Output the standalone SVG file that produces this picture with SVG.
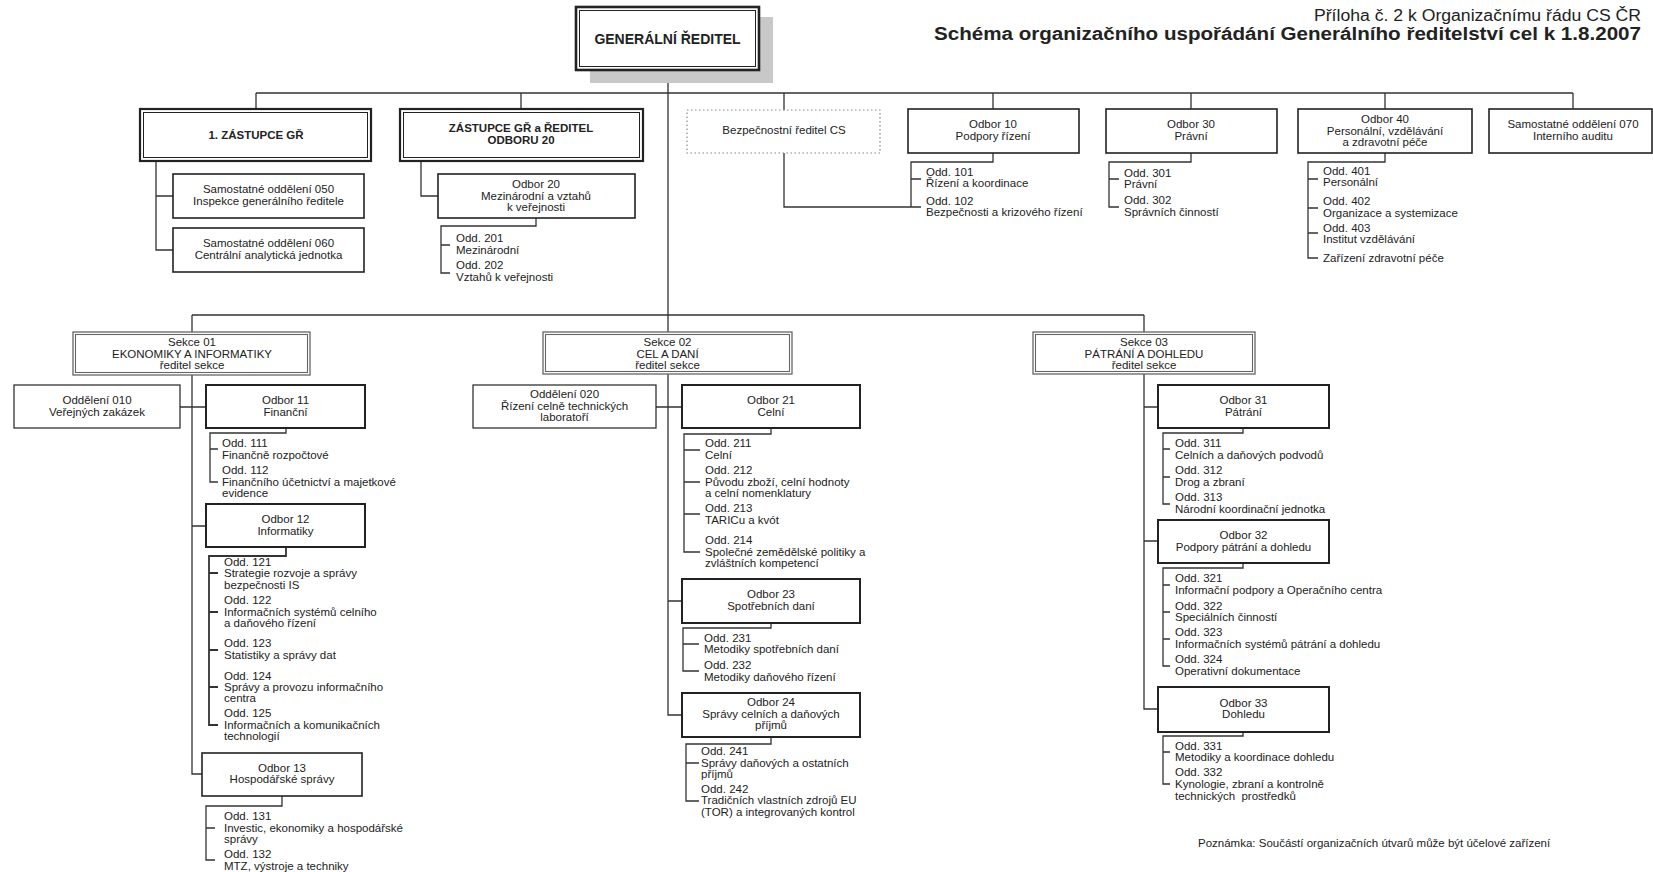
<svg xmlns="http://www.w3.org/2000/svg" width="1653" height="872" viewBox="0 0 1653 872">
<style>
text{font-family:"Liberation Sans",Arial,sans-serif;font-size:11.5px;fill:#222}
.c{text-anchor:middle}
.b{font-weight:bold}
.box{fill:#fff;stroke:#222;stroke-width:1.6}
.thin{fill:#fff;stroke:#222;stroke-width:1.2}
.dbo{fill:#fff;stroke:#222;stroke-width:2.2}
.dbi{fill:none;stroke:#222;stroke-width:1}
.so{fill:#fff;stroke:#666;stroke-width:1.3}
.si{fill:none;stroke:#666;stroke-width:1.1}
.dot{fill:#fff;stroke:#888;stroke-width:1.2;stroke-dasharray:1.5 2.5}
.ln{fill:none;stroke:#333;stroke-width:1.3}
</style>
<rect width="1653" height="872" fill="#fff"/>
<g id="title">
<text x="1641" y="21" text-anchor="end" style="font-size:16px" textLength="327" lengthAdjust="spacingAndGlyphs">Příloha č. 2 k Organizačnímu řádu CS ČR</text>
<text x="1641" y="40" text-anchor="end" class="b" style="font-size:18px" textLength="707" lengthAdjust="spacingAndGlyphs">Schéma organizačního uspořádání Generálního ředitelství cel k 1.8.2007</text>
</g>
<g id="connectors" class="ln">
<path d="M668 70V332M256 93H1573M256 93V109M521 93V109M784 93V110M993 93V109M1191 93V109M1385 93V109M1573 93V109"/>
<path d="M156 161V250H173M156 196H173"/>
<path d="M421 161V196H438"/>
<path d="M536 218V226H441V273H450M441 245H450"/>
<path d="M784 153V207H921"/>
<path d="M993 153V162H911V207M911 179H921"/>
<path d="M1191 153V162H1109V207H1119M1109 179H1119"/>
<path d="M1385 153V162H1308V258H1318M1308 179H1318M1308 208H1318M1308 233H1318"/>
<path d="M192 315H1144M192 315V332M1144 315V332"/>
<path d="M192 375V774H202M180 407H206M192 526H206"/>
<path d="M286 428V433H210V482H218M210 449H218"/>
<path d="M286 547V556H209V725H218M209 573H218M209 612H218M209 650H218M209 687H218" style="stroke-width:1.8"/>
<path d="M282 796V806H206V860H215M206 828H215"/>
<path d="M668 374V715H682M656 407H682M668 601H682"/>
<path d="M771 428V434H684V552H700M684 450H700M684 482H700M684 514H700"/>
<path d="M771 623V628H683V671H699M683 644H699"/>
<path d="M771 737V744H686V801H699M686 763H699"/>
<path d="M1144 374V709H1158M1144 407H1158M1144 541H1158"/>
<path d="M1243 428V433H1163V504H1170M1163 449H1170M1163 477H1170"/>
<path d="M1243 563V568H1163V666H1170M1163 585H1170M1163 612H1170M1163 639H1170"/>
<path d="M1243 732V736H1163V784H1170M1163 752H1170"/>
</g>
<g id="gr">
<rect x="590" y="17" width="183" height="66" fill="#c8c8c8"/>
<rect x="576" y="7" width="183" height="63" fill="#fff" stroke="#222" stroke-width="2.6"/>
<rect x="579.5" y="10.5" width="176" height="56" class="dbi"/>
<text x="667.5" y="44" class="c b" style="font-size:14px">GENERÁLNÍ ŘEDITEL</text>
</g>
<g id="zastupce1">
<rect x="140" y="109" width="231" height="52" class="dbo"/>
<rect x="143.5" y="112.5" width="224" height="45" class="dbi"/>
<text x="256" y="139" class="c b">1. ZÁSTUPCE GŘ</text>
</g>
<g id="zastupce2">
<rect x="400" y="109" width="243" height="52" class="dbo"/>
<rect x="403.5" y="112.5" width="236" height="45" class="dbi"/>
<text x="521" y="132" class="c b">ZÁSTUPCE GŘ a ŘEDITEL</text>
<text x="521" y="143.5" class="c b">ODBORU 20</text>
</g>
<g id="bezpecnostni">
<rect x="687" y="110" width="193" height="43" class="dot"/>
<text x="784" y="134" class="c">Bezpečnostní ředitel CS</text>
</g>
<g id="odbor10">
<rect x="908" y="109" width="171" height="44" class="box"/>
<text x="993" y="128" class="c">Odbor 10</text>
<text x="993" y="140" class="c">Podpory řízení</text>
</g>
<g id="odbor30">
<rect x="1106" y="109" width="171" height="44" class="box"/>
<text x="1191" y="128" class="c">Odbor 30</text>
<text x="1191" y="140" class="c">Právní</text>
</g>
<g id="odbor40">
<rect x="1298" y="109" width="174" height="44" class="box"/>
<text x="1385" y="123" class="c">Odbor 40</text>
<text x="1385" y="134.5" class="c">Personální, vzdělávání</text>
<text x="1385" y="146" class="c">a zdravotní péče</text>
</g>
<g id="odd070">
<rect x="1489" y="109" width="163" height="44" class="box"/>
<text x="1573" y="128" class="c">Samostatné oddělení 070</text>
<text x="1573" y="140" class="c">Interního auditu</text>
</g>
<g id="odd050">
<rect x="173" y="174" width="191" height="44" class="box"/>
<text x="268.5" y="193" class="c">Samostatné oddělení 050</text>
<text x="268.5" y="205" class="c">Inspekce generálního ředitele</text>
</g>
<g id="odd060">
<rect x="173" y="228" width="191" height="44" class="box"/>
<text x="268.5" y="247" class="c">Samostatné oddělení 060</text>
<text x="268.5" y="259" class="c">Centrální analytická jednotka</text>
</g>
<g id="odbor20">
<rect x="438" y="174" width="197" height="44" class="box"/>
<text x="536" y="188" class="c">Odbor 20</text>
<text x="536" y="199.5" class="c">Mezinárodní a vztahů</text>
<text x="536" y="211" class="c">k veřejnosti</text>
</g>
<g id="odd20x">
<text x="456" y="242">Odd. 201</text>
<text x="456" y="254">Mezinárodní</text>
<text x="456" y="269">Odd. 202</text>
<text x="456" y="281">Vztahů k veřejnosti</text>
</g>
<g id="odd10x">
<text x="926" y="176">Odd. 101</text>
<text x="926" y="187">Řízení a koordinace</text>
<text x="926" y="205">Odd. 102</text>
<text x="926" y="216">Bezpečnosti a krizového řízení</text>
</g>
<g id="odd30x">
<text x="1124" y="177">Odd. 301</text>
<text x="1124" y="188">Právní</text>
<text x="1124" y="204">Odd. 302</text>
<text x="1124" y="216">Správních činností</text>
</g>
<g id="odd40x">
<text x="1323" y="175">Odd. 401</text>
<text x="1323" y="186">Personální</text>
<text x="1323" y="205">Odd. 402</text>
<text x="1323" y="217">Organizace a systemizace</text>
<text x="1323" y="232">Odd. 403</text>
<text x="1323" y="243">Institut vzdělávání</text>
<text x="1323" y="262">Zařízení zdravotní péče</text>
</g>
<g id="sekce01">
<rect x="73" y="332" width="237" height="43" class="so"/>
<rect x="75.5" y="334.5" width="232" height="38" class="si"/>
<text x="192" y="346" class="c">Sekce 01</text>
<text x="192" y="357.5" class="c">EKONOMIKY A INFORMATIKY</text>
<text x="192" y="368.5" class="c">ředitel sekce</text>
</g>
<g id="sekce02">
<rect x="543" y="332" width="249" height="42" class="so"/>
<rect x="545.5" y="334.5" width="244" height="37" class="si"/>
<text x="667.5" y="346" class="c">Sekce 02</text>
<text x="667.5" y="357.5" class="c">CEL A DANÍ</text>
<text x="667.5" y="368.5" class="c">ředitel sekce</text>
</g>
<g id="sekce03">
<rect x="1033" y="332" width="222" height="42" class="so"/>
<rect x="1035.5" y="334.5" width="217" height="37" class="si"/>
<text x="1144" y="346" class="c">Sekce 03</text>
<text x="1144" y="357.5" class="c">PÁTRÁNÍ A DOHLEDU</text>
<text x="1144" y="368.5" class="c">ředitel sekce</text>
</g>
<g id="odd010">
<rect x="14" y="385" width="166" height="43" class="thin"/>
<text x="97" y="404" class="c">Oddělení 010</text>
<text x="97" y="416" class="c">Veřejných zakázek</text>
</g>
<g id="odbor11">
<rect x="206" y="385" width="159" height="43" class="box" style="stroke-width:2"/>
<text x="285.5" y="404" class="c">Odbor 11</text>
<text x="285.5" y="416" class="c">Finanční</text>
</g>
<g id="odd11x">
<text x="222" y="447">Odd. 111</text>
<text x="222" y="459">Finančně rozpočtové</text>
<text x="222" y="474">Odd. 112</text>
<text x="222" y="486">Finančního účetnictví a majetkové</text>
<text x="222" y="497">evidence</text>
</g>
<g id="odbor12">
<rect x="206" y="504" width="159" height="43" class="box" style="stroke-width:2"/>
<text x="285.5" y="523" class="c">Odbor 12</text>
<text x="285.5" y="535" class="c">Informatiky</text>
</g>
<g id="odd12x">
<text x="224" y="566">Odd. 121</text>
<text x="224" y="577">Strategie rozvoje a správy</text>
<text x="224" y="589">bezpečnosti IS</text>
<text x="224" y="604">Odd. 122</text>
<text x="224" y="616">Informačních systémů celního</text>
<text x="224" y="627">a daňového řízení</text>
<text x="224" y="647">Odd. 123</text>
<text x="224" y="659">Statistiky a správy dat</text>
<text x="224" y="680">Odd. 124</text>
<text x="224" y="691">Správy a provozu informačního</text>
<text x="224" y="702">centra</text>
<text x="224" y="717">Odd. 125</text>
<text x="224" y="729">Informačních a komunikačních</text>
<text x="224" y="740">technologií</text>
</g>
<g id="odbor13">
<rect x="202" y="753" width="160" height="43" class="box"/>
<text x="282" y="772" class="c">Odbor 13</text>
<text x="282" y="783" class="c">Hospodářské správy</text>
</g>
<g id="odd13x">
<text x="224" y="820">Odd. 131</text>
<text x="224" y="832">Investic, ekonomiky a hospodářské</text>
<text x="224" y="843">správy</text>
<text x="224" y="858">Odd. 132</text>
<text x="224" y="870">MTZ, výstroje a techniky</text>
</g>
<g id="odd020">
<rect x="473" y="385" width="183" height="43" class="thin"/>
<text x="564.5" y="398" class="c">Oddělení 020</text>
<text x="564.5" y="410" class="c">Řízení celně technických</text>
<text x="564.5" y="421" class="c">laboratoří</text>
</g>
<g id="odbor21">
<rect x="682" y="385" width="178" height="43" class="box" style="stroke-width:2"/>
<text x="771" y="404" class="c">Odbor 21</text>
<text x="771" y="416" class="c">Celní</text>
</g>
<g id="odd21x">
<text x="705" y="447">Odd. 211</text>
<text x="705" y="459">Celní</text>
<text x="705" y="474">Odd. 212</text>
<text x="705" y="486">Původu zboží, celní hodnoty</text>
<text x="705" y="497">a celní nomenklatury</text>
<text x="705" y="512">Odd. 213</text>
<text x="705" y="524">TARICu a kvót</text>
<text x="705" y="544">Odd. 214</text>
<text x="705" y="556">Společné zemědělské politiky a</text>
<text x="705" y="567">zvláštních kompetencí</text>
</g>
<g id="odbor23">
<rect x="682" y="579" width="178" height="44" class="box" style="stroke-width:2"/>
<text x="771" y="598" class="c">Odbor 23</text>
<text x="771" y="610" class="c">Spotřebních daní</text>
</g>
<g id="odd23x">
<text x="704" y="642">Odd. 231</text>
<text x="704" y="653">Metodiky spotřebních daní</text>
<text x="704" y="669">Odd. 232</text>
<text x="704" y="681">Metodiky daňového řízení</text>
</g>
<g id="odbor24">
<rect x="682" y="693" width="178" height="44" class="box" style="stroke-width:2"/>
<text x="771" y="706" class="c">Odbor 24</text>
<text x="771" y="718" class="c">Správy celních a daňových</text>
<text x="771" y="729" class="c">příjmů</text>
</g>
<g id="odd24x">
<text x="701" y="755">Odd. 241</text>
<text x="701" y="767">Správy daňových a ostatních</text>
<text x="701" y="778">příjmů</text>
<text x="701" y="793">Odd. 242</text>
<text x="701" y="804">Tradičních vlastních zdrojů EU</text>
<text x="701" y="816">(TOR) a integrovaných kontrol</text>
</g>
<g id="odbor31">
<rect x="1158" y="385" width="171" height="43" class="box" style="stroke-width:2"/>
<text x="1243.5" y="404" class="c">Odbor 31</text>
<text x="1243.5" y="416" class="c">Pátrání</text>
</g>
<g id="odd31x">
<text x="1175" y="447">Odd. 311</text>
<text x="1175" y="459">Celních a daňových podvodů</text>
<text x="1175" y="474">Odd. 312</text>
<text x="1175" y="486">Drog a zbraní</text>
<text x="1175" y="501">Odd. 313</text>
<text x="1175" y="513">Národní koordinační jednotka</text>
</g>
<g id="odbor32">
<rect x="1158" y="520" width="171" height="43" class="box" style="stroke-width:2"/>
<text x="1243.5" y="539" class="c">Odbor 32</text>
<text x="1243.5" y="551" class="c">Podpory pátrání a dohledu</text>
</g>
<g id="odd32x">
<text x="1175" y="582">Odd. 321</text>
<text x="1175" y="594">Informační podpory a Operačního centra</text>
<text x="1175" y="610">Odd. 322</text>
<text x="1175" y="621">Speciálních činností</text>
<text x="1175" y="636">Odd. 323</text>
<text x="1175" y="648">Informačních systémů pátrání a dohledu</text>
<text x="1175" y="663">Odd. 324</text>
<text x="1175" y="675">Operativní dokumentace</text>
</g>
<g id="odbor33">
<rect x="1158" y="687" width="171" height="45" class="box" style="stroke-width:2"/>
<text x="1243.5" y="707" class="c">Odbor 33</text>
<text x="1243.5" y="718" class="c">Dohledu</text>
</g>
<g id="odd33x">
<text x="1175" y="750">Odd. 331</text>
<text x="1175" y="761">Metodiky a koordinace dohledu</text>
<text x="1175" y="776">Odd. 332</text>
<text x="1175" y="788">Kynologie, zbraní a kontrolně</text>
<text x="1175" y="800" xml:space="preserve">technických  prostředků</text>
</g>
<g id="poznamka">
<text x="1198" y="847">Poznámka: Součástí organizačních útvarů může být účelové zařízení</text>
</g>
</svg>
